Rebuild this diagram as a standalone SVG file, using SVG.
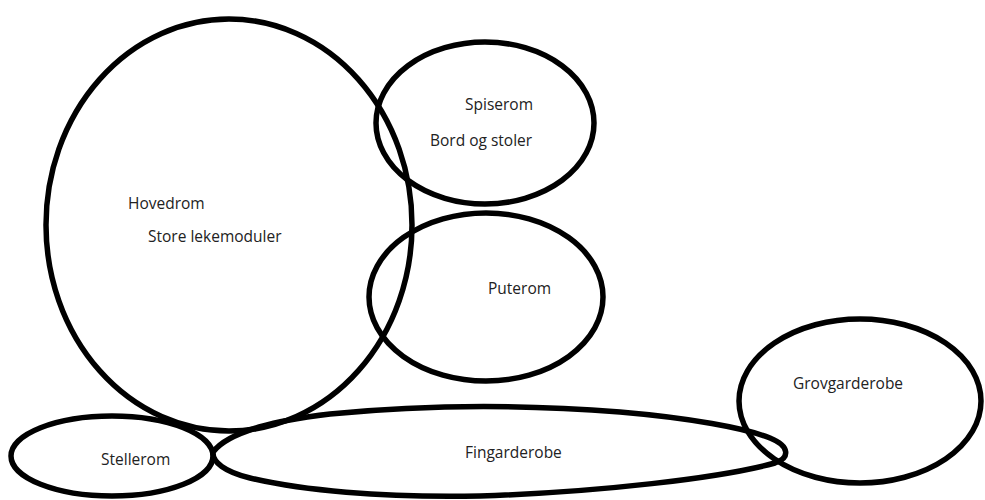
<svg xmlns="http://www.w3.org/2000/svg" width="985" height="500" viewBox="0 0 985 500">
<style>
.room{fill:none;stroke:#000;stroke-width:5.5;stroke-linejoin:round}
.lbl{font-family:"Open Sans","Noto Sans",sans-serif;font-size:15.5px;fill:#222}
</style>
<rect width="985" height="500" fill="#fff"/>
<g id="hovedrom">
<ellipse class="room" cx="229" cy="225" rx="183" ry="206"/>
<text class="lbl" x="128" y="209">Hovedrom</text>
<text class="lbl" x="148" y="242">Store lekemoduler</text>
</g>
<g id="spiserom">
<ellipse class="room" cx="485" cy="123" rx="109" ry="81"/>
<text class="lbl" x="465" y="110">Spiserom</text>
<text class="lbl" x="430" y="146">Bord og stoler</text>
</g>
<g id="puterom">
<ellipse class="room" cx="486" cy="297" rx="117" ry="84"/>
<text class="lbl" x="488" y="294">Puterom</text>
</g>
<g id="grovgarderobe">
<ellipse class="room" cx="860" cy="401" rx="121" ry="82"/>
<text class="lbl" x="793" y="389">Grovgarderobe</text>
</g>
<g id="stellerom">
<ellipse class="room" cx="112" cy="456" rx="101" ry="40"/>
<text class="lbl" x="101" y="465">Stellerom</text>
</g>
<g id="fingarderobe">
<path class="room" d="M213,452 C230,430 280,420 330,414 C420,405 520,404 620,412 C690,418 745,428 770,438 C790,446 790,458 775,463 C720,478 600,492 480,496 C380,498 300,490 250,478 C225,472 212,462 213,452 Z"/>
<text class="lbl" x="465" y="458">Fingarderobe</text>
</g>
<g id="connectors"/>
</svg>
